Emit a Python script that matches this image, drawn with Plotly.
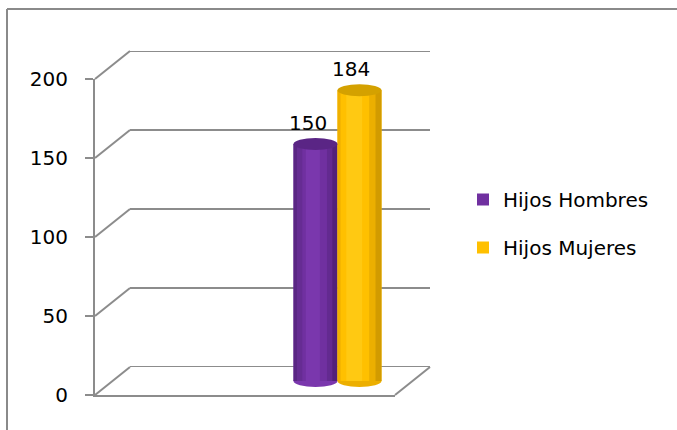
import plotly.graph_objects as go

# ---------------- data ----------------
categories = ["Sin datos", "Hijos"]
series_names = ["Hijos Hombres", "Hijos Mujeres"]
hombres = [None, 150]
mujeres = [None, 184]
y_ticks = [0, 50, 100, 150, 200]

# ---------------- style / geometry ----------------
W, H = 677, 430
FONT = "DejaVu Sans"
GRID = "#8C8C8C"


def fx(p):
    return p / W


def fy(p):
    return 1 - p / H


# front plane (pixel box), depth shift of the 3D box
FX0, FX1 = 95, 395
FY_TOP, FY_BOT = 79, 395
DX, DY = 35, 28
YMAX = 200
PX_PER_UNIT = (FY_BOT - FY_TOP) / YMAX
MID_PAD = 10  # extra value room below 0 on the bar plane (for cylinder bottoms)


def box(shift, pad=0):
    sx, sy = DX * shift, DY * shift
    return ([fx(FX0 + sx), fx(FX1 + sx)],
            [fy(FY_BOT - sy + pad * PX_PER_UNIT), fy(FY_TOP - sy)])


back_dom = box(1.0)
mid_dom = box(0.5, MID_PAD)
front_dom = box(0.0)

BAR_W = 0.2933
colors_base = ["#7030A0", "#FFC000"]
tops = ["#5A2585", "#D4A100"]
stripes = [
    [(0.00, 0.08, "#5A2684"), (0.08, 0.20, "#662C93"), (0.28, 0.60, "#7A37AD"),
     (0.76, 0.88, "#632A90"), (0.88, 1.00, "#52217A")],
    [(0.00, 0.07, "#EFB000"), (0.20, 0.56, "#FFC912"),
     (0.72, 0.86, "#ECAF00"), (0.86, 1.00, "#D29B00")],
]
offsets = [-BAR_W, 0.0]
label_xshift = [-30, 13]

fig = go.Figure()

# back wall subplot (x / y, drawn first = lowest)
fig.add_trace(go.Scatter(x=[None], y=[None], xaxis="x", yaxis="y",
                         showlegend=False, hoverinfo="skip"))

values = [hombres, mujeres]
shapes = []
annotations = []

# back wall gridlines
for v in y_ticks:
    shapes.append(dict(type="line", xref="x domain", yref="y", x0=0, x1=1, y0=v, y1=v,
                       line=dict(color=GRID, width=2), layer="below"))

for i, (name, vals) in enumerate(zip(series_names, values)):
    fig.add_trace(go.Bar(
        x=categories, y=vals, name=name, xaxis="x2", yaxis="y2",
        marker=dict(color=colors_base[i], line=dict(width=0)),
        width=BAR_W, offset=offsets[i], legendgroup=name,
    ))
    for a, b, c in stripes[i]:
        fig.add_trace(go.Bar(
            x=categories, y=vals, xaxis="x2", yaxis="y2", showlegend=False,
            marker=dict(color=c, line=dict(width=0)), hoverinfo="skip",
            width=BAR_W * (b - a), offset=offsets[i] + BAR_W * a, legendgroup=name,
        ))
    for ci, v in enumerate(vals):
        if v is None:
            continue
        x0 = ci + offsets[i]
        x1 = x0 + BAR_W
        eh = 6 / PX_PER_UNIT
        shapes.append(dict(type="circle", xref="x2", yref="y2", x0=x0, x1=x1,
                           y0=v - eh, y1=v + eh, fillcolor=tops[i],
                           line=dict(width=0), layer="above"))
        shapes.append(dict(type="circle", xref="x2", yref="y2", x0=x0, x1=x1,
                           y0=-eh, y1=eh, fillcolor=stripes[i][2][2],
                           line=dict(width=0), layer="below"))
        annotations.append(dict(x=ci, y=v, xref="x2", yref="y2", text=str(v),
                                showarrow=False, xshift=label_xshift[i], yshift=21,
                                yanchor="middle",
                                font=dict(family=FONT, size=20, color="#000000")))

# front axis subplot (x3 / y3)
fig.add_trace(go.Scatter(x=[None], y=[None], xaxis="x3", yaxis="y3",
                         showlegend=False, hoverinfo="skip"))

# depth diagonals (left wall) and right floor edge
for v in y_ticks:
    yf = FY_BOT - v * PX_PER_UNIT
    shapes.append(dict(type="line", xref="paper", yref="paper",
                       x0=fx(FX0), y0=fy(yf), x1=fx(FX0 + DX), y1=fy(yf - DY),
                       line=dict(color=GRID, width=2), layer="below"))
shapes.append(dict(type="line", xref="paper", yref="paper",
                   x0=fx(FX1), y0=fy(FY_BOT), x1=fx(FX1 + DX), y1=fy(FY_BOT - DY),
                   line=dict(color=GRID, width=2), layer="below"))

# chart frame border (top and left)
shapes.append(dict(type="line", xref="paper", yref="paper",
                   x0=fx(7), y0=fy(9), x1=1.0, y1=fy(9),
                   line=dict(color="#8A8A8A", width=2)))
shapes.append(dict(type="line", xref="paper", yref="paper",
                   x0=fx(7), y0=fy(9), x1=fx(7), y1=0,
                   line=dict(color="#8A8A8A", width=2)))

hidden_x = dict(range=[-0.5, 1.5], showticklabels=False, showgrid=False,
                zeroline=False, ticks="", showline=False)

fig.update_layout(
    width=W, height=H,
    margin=dict(l=0, r=0, t=0, b=0, autoexpand=False),
    paper_bgcolor="white", plot_bgcolor="rgba(0,0,0,0)",
    barmode="overlay",
    font=dict(family=FONT, size=20, color="#000000"),
    xaxis=dict(domain=back_dom[0], anchor="y", **hidden_x),
    yaxis=dict(domain=back_dom[1], anchor="x", range=[0, YMAX], showticklabels=False,
               showgrid=False, zeroline=False, showline=False, ticks=""),
    xaxis2=dict(domain=mid_dom[0], anchor="y2", type="category",
                categoryorder="array", categoryarray=categories, **hidden_x),
    yaxis2=dict(domain=mid_dom[1], anchor="x2", range=[-MID_PAD, YMAX], showticklabels=False,
                showgrid=False, zeroline=False, showline=False, ticks=""),
    xaxis3=dict(domain=front_dom[0], anchor="y3", range=[-0.5, 1.5], showticklabels=False,
                showgrid=False, zeroline=False, ticks="", showline=True,
                linecolor=GRID, linewidth=2),
    yaxis3=dict(domain=front_dom[1], anchor="x3", range=[0, YMAX], tickvals=y_ticks,
                showgrid=False, zeroline=False, showline=True, linecolor=GRID, linewidth=2,
                ticks="outside", ticklen=8, tickcolor=GRID, tickwidth=2,
                ticklabelstandoff=13,
                tickfont=dict(family=FONT, size=20, color="#000000")),
    legend=dict(x=fx(463), y=fy(180), xanchor="left", yanchor="top",
                font=dict(family=FONT, size=20, color="#000000"),
                tracegroupgap=19, bgcolor="rgba(0,0,0,0)", itemwidth=30),
    shapes=shapes,
    annotations=annotations,
)

fig.write_html("out.html", config={"displayModeBar": False},
               post_script="document.body.style.margin='0';")
